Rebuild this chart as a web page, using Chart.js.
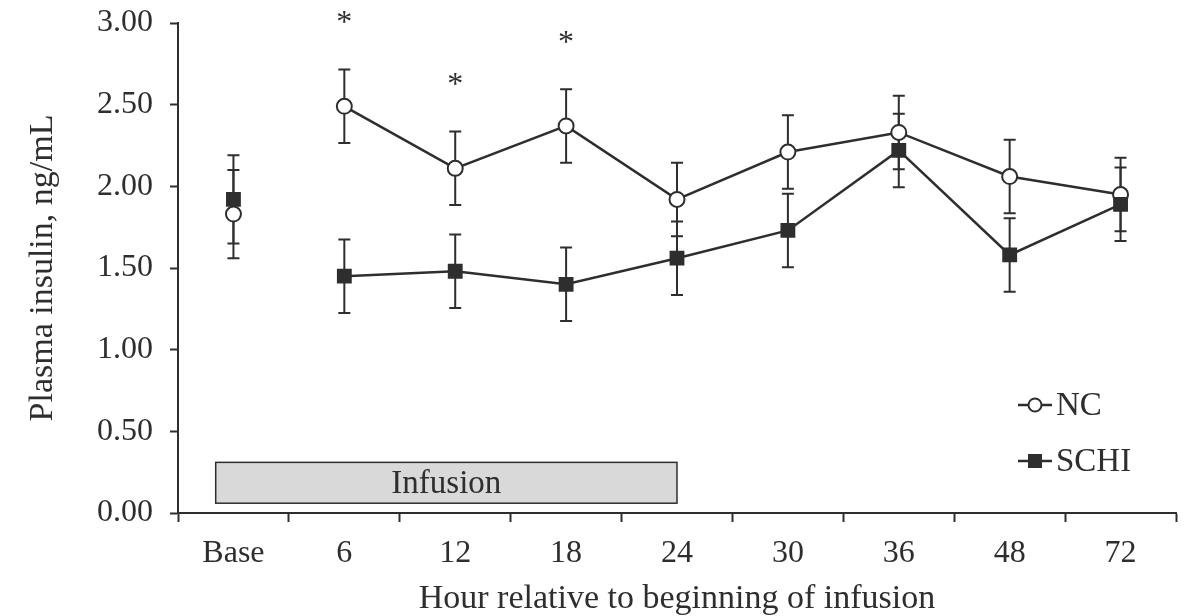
<!DOCTYPE html>
<html>
<head>
<meta charset="utf-8">
<script src="https://cdn.jsdelivr.net/npm/chart.js@4.4.1/dist/chart.umd.min.js"></script>
<style>
  html, body { margin: 0; padding: 0; background: #ffffff; }
  #wrap { width: 1190px; height: 616px; position: relative; }
</style>
</head>
<body>
<div id="wrap"><canvas id="c" width="1190" height="616"></canvas></div>
<script>
// ---- data ----
const categories = ['Base', '6', '12', '18', '24', '30', '36', '48', '72'];
const ncMean   = [1.83, 2.49, 2.11, 2.37, 1.92, 2.21, 2.33, 2.06, 1.95];
const ncSE     = [0.27, 0.225, 0.225, 0.225, 0.225, 0.225, 0.225, 0.225, 0.225];
const schiMean = [1.92, 1.45, 1.48, 1.40, 1.56, 1.73, 2.22, 1.58, 1.89];
const schiSE   = [0.27, 0.225, 0.225, 0.225, 0.225, 0.225, 0.225, 0.225, 0.225];
const sigIndex = [1, 2, 3];             // time points marked with *
const yTicks   = [0, 0.5, 1, 1.5, 2, 2.5, 3];
const infusion = { fromIndex: -0.16, toIndex: 4, low: 0.06, high: 0.31, label: 'Infusion' };

const INK = '#2e2e2e';
const FONT = 'Liberation Serif, Times New Roman, serif';

const errorBars = {
  id: 'errorBars',
  beforeDatasetsDraw(chart) {
    const ctx = chart.ctx;
    const y = chart.scales.y;
    ctx.save();
    chart.data.datasets.forEach((ds, di) => {
      const meta = chart.getDatasetMeta(di);
      meta.data.forEach((pt, i) => {
        const m = ds.data[i], se = ds.se[i];
        const yt = y.getPixelForValue(m + se), yb = y.getPixelForValue(m - se);
        ctx.strokeStyle = INK;
        ctx.lineWidth = 2;
        ctx.beginPath();
        ctx.moveTo(pt.x, yt); ctx.lineTo(pt.x, yb);
        ctx.moveTo(pt.x - 6, yt); ctx.lineTo(pt.x + 6, yt);
        ctx.moveTo(pt.x - 6, yb); ctx.lineTo(pt.x + 6, yb);
        ctx.stroke();
      });
    });
    ctx.restore();
  }
};

const infusionBox = {
  id: 'infusionBox',
  beforeDatasetsDraw(chart) {
    const ctx = chart.ctx, x = chart.scales.x, y = chart.scales.y;
    const w = x.getPixelForValue(1) - x.getPixelForValue(0);
    const x0 = x.getPixelForValue(0) + infusion.fromIndex * w;
    const x1 = x.getPixelForValue(infusion.toIndex);
    const y0 = y.getPixelForValue(infusion.high), y1 = y.getPixelForValue(infusion.low);
    ctx.save();
    ctx.fillStyle = '#d9d9d9';
    ctx.strokeStyle = INK;
    ctx.lineWidth = 1.5;
    ctx.fillRect(x0, y0, x1 - x0, y1 - y0);
    ctx.strokeRect(x0, y0, x1 - x0, y1 - y0);
    ctx.fillStyle = INK;
    ctx.font = '33px ' + FONT;
    ctx.textAlign = 'center';
    ctx.textBaseline = 'middle';
    ctx.fillText(infusion.label, (x0 + x1) / 2, (y0 + y1) / 2 + 2);
    ctx.restore();
  }
};

const extras = {
  id: 'extras',
  afterDraw(chart) {
    const ctx = chart.ctx, x = chart.scales.x, y = chart.scales.y, a = chart.chartArea;
    ctx.save();
    // asterisks
    ctx.fillStyle = INK;
    ctx.font = '32px ' + FONT;
    ctx.textAlign = 'center';
    ctx.textBaseline = 'middle';
    sigIndex.forEach(i => {
      const top = y.getPixelForValue(ncMean[i] + ncSE[i]);
      ctx.fillText('*', x.getPixelForValue(i), top - 46);
    });
    // legend
    const lx0 = a.right - 158, lx1 = lx0 + 34, mx = (lx0 + lx1) / 2;
    const rows = [
      { y: a.top + 382, label: 'NC', shape: 'circle' },
      { y: a.top + 438, label: 'SCHI', shape: 'square' }
    ];
    rows.forEach(r => {
      ctx.strokeStyle = INK; ctx.lineWidth = 2.5;
      ctx.beginPath(); ctx.moveTo(lx0, r.y); ctx.lineTo(lx1, r.y); ctx.stroke();
      if (r.shape === 'circle') {
        ctx.fillStyle = '#fff'; ctx.lineWidth = 2;
        ctx.beginPath(); ctx.arc(mx, r.y, 6.5, 0, Math.PI * 2); ctx.fill(); ctx.stroke();
      } else {
        ctx.fillStyle = INK;
        ctx.fillRect(mx - 7, r.y - 7, 14, 14);
      }
      ctx.fillStyle = INK;
      ctx.font = '33px ' + FONT;
      ctx.textAlign = 'left';
      ctx.textBaseline = 'middle';
      ctx.fillText(r.label, lx1 + 4, r.y + 1);
    });
    ctx.restore();
  }
};

Chart.defaults.font.family = FONT;
Chart.defaults.color = INK;

new Chart(document.getElementById('c'), {
  type: 'line',
  data: {
    labels: categories,
    datasets: [
      {
        label: 'SCHI', data: schiMean, se: schiSE, order: 0,
        borderColor: INK, borderWidth: 2.5, backgroundColor: INK,
        pointStyle: 'rect', pointRadius: 10.5, pointBorderWidth: 0,
        pointBackgroundColor: INK, pointBorderColor: INK,
        segment: { borderColor: c => c.p0DataIndex === 0 ? 'rgba(0,0,0,0)' : INK },
        tension: 0
      },
      {
        label: 'NC', data: ncMean, se: ncSE, order: 1,
        borderColor: INK, borderWidth: 2.5,
        pointStyle: 'circle', pointRadius: 7.5, pointBorderWidth: 2,
        pointBackgroundColor: '#ffffff', pointBorderColor: INK,
        segment: { borderColor: c => c.p0DataIndex === 0 ? 'rgba(0,0,0,0)' : INK },
        tension: 0
      }
    ]
  },
  options: {
    responsive: false,
    animation: false,
    devicePixelRatio: 1,
    layout: { padding: { left: 0, right: 14, top: 23, bottom: 0 } },
    plugins: { legend: { display: false }, tooltip: { enabled: false } },
    scales: {
      x: {
        type: 'category',
        offset: true,
        grid: { display: true, drawOnChartArea: false, drawTicks: true, tickLength: 9, tickColor: INK, tickWidth: 2, offset: true },
        border: { display: true, color: INK, width: 2 },
        ticks: { font: { size: 32, family: FONT }, color: INK, padding: 12, maxRotation: 0, autoSkip: false },
        title: { display: true, text: 'Hour relative to beginning of infusion', font: { size: 34, family: FONT, lineHeight: 1 }, color: INK, padding: { top: 0, bottom: 0 } },
        afterFit(s) { s.height = 103; s.paddingLeft = 0; s.paddingRight = 0; }
      },
      y: {
        min: 0, max: 3,
        afterBuildTicks(s) { s.ticks = yTicks.map(v => ({ value: v })); },
        grid: { display: true, drawOnChartArea: false, drawTicks: true, tickLength: 8, tickColor: INK, tickWidth: 2 },
        border: { display: true, color: INK, width: 2 },
        ticks: { font: { size: 32, family: FONT }, color: INK, padding: 17, callback: v => Number(v).toFixed(2) },
        title: { display: true, text: 'Plasma insulin, ng/mL', font: { size: 34, family: FONT, lineHeight: 1 }, color: INK, padding: { top: 26, bottom: 0 } },
        afterFit(s) { s.width = 178; s.paddingTop = 0; s.paddingBottom = 0; }
      }
    }
  },
  plugins: [infusionBox, errorBars, extras]
});
</script>
</body>
</html>
